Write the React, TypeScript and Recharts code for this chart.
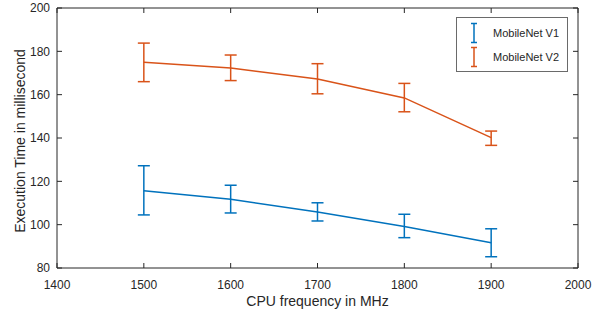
import React from "react";
import { LineChart, Line, XAxis, YAxis, ErrorBar } from "recharts";

const freqs = [1500, 1600, 1700, 1800, 1900];
const v1Mean = [115.7, 111.7, 105.8, 99.2, 91.7];
const v1Lower = [104.5, 105.4, 101.7, 94.0, 85.2];
const v1Upper = [127.2, 118.2, 110.1, 104.8, 98.1];
const v2Mean = [175.0, 172.3, 167.2, 158.5, 140.2];
const v2Lower = [166.0, 166.5, 160.4, 152.1, 136.6];
const v2Upper = [183.8, 178.3, 174.3, 165.2, 143.2];

const xTicks = [1400, 1500, 1600, 1700, 1800, 1900, 2000];
const yTicks = [80, 100, 120, 140, 160, 180, 200];

const seriesNames = ["MobileNet V1", "MobileNet V2"];
const BLUE = "#0072BD";
const ORANGE = "#D95319";
const AXIS = "#262626";
const FONT = "'Liberation Sans', Arial, Helvetica, sans-serif";

const data = freqs.map((f, i) => ({
  freq: f,
  v1: v1Mean[i],
  v1Err: [v1Mean[i] - v1Lower[i], v1Upper[i] - v1Mean[i]],
  v2: v2Mean[i],
  v2Err: [v2Mean[i] - v2Lower[i], v2Upper[i] - v2Mean[i]],
}));

const tickStyle = { fill: AXIS, fontSize: 12, fontFamily: FONT };

// legend drawn as an overlay so it doesn't steal plot height
function LegendBox() {
  const colors = [BLUE, ORANGE];
  return (
    <svg width={112} height={55} style={{ position: "absolute", left: 456, top: 17, display: "block" }}>
      <rect x={0.5} y={0.5} width={111} height={54} fill="#fff" stroke="#6a6a6a" strokeWidth={1} />
      {seriesNames.map((name, i) => {
        const cy = 16 + i * 24;
        return (
          <g key={name}>
            <line x1={18} x2={18} y1={cy - 9.5} y2={cy + 9.5} stroke={colors[i]} strokeWidth={1.5} />
            <line x1={15} x2={21} y1={cy - 9.5} y2={cy - 9.5} stroke={colors[i]} strokeWidth={1.5} />
            <line x1={15} x2={21} y1={cy + 9.5} y2={cy + 9.5} stroke={colors[i]} strokeWidth={1.5} />
            <text x={37} y={cy + 4} fontSize={11} fontFamily={FONT} fill={AXIS}>
              {name}
            </text>
          </g>
        );
      })}
    </svg>
  );
}

function YLabel(props: any) {
  const vb = props.viewBox || {};
  const cx = (vb.x ?? 0) + 24.5;
  const cy = (vb.y ?? 0) + vb.height / 2 + 3;
  return (
    <text
      x={cx}
      y={cy}
      transform={`rotate(-90, ${cx}, ${cy})`}
      textAnchor="middle"
      fontSize={14}
      fontFamily={FONT}
      fill={AXIS}
    >
      Execution Time in millisecond
    </text>
  );
}

// mirrored axes only carry the inward tick marks (MATLAB style box)
const innerTick = { stroke: AXIS, strokeWidth: 1 };
const noLabel = () => <g />;

export default function App() {
  return (
    <div style={{ position: "absolute", left: 0, top: 0, width: 606, height: 312, background: "#fff" }}>
      <LineChart width={606} height={312} data={data} margin={{ top: 0, right: 0, bottom: 0, left: 0 }}>
        <XAxis
          dataKey="freq"
          type="number"
          domain={[1400, 2000]}
          ticks={xTicks}
          height={44}
          stroke={AXIS}
          tickLine={false}
          tickSize={0}
          tickMargin={12}
          tick={tickStyle}
          label={{ value: "CPU frequency in MHz", position: "insideBottom", offset: 6, fill: AXIS, fontSize: 14, fontFamily: FONT }}
        />
        <XAxis
          xAxisId="top"
          dataKey="freq"
          orientation="top"
          type="number"
          domain={[1400, 2000]}
          ticks={xTicks}
          height={8}
          stroke={AXIS}
          tickLine={false}
          tick={false}
        />
        <XAxis
          xAxisId="bm"
          dataKey="freq"
          orientation="bottom"
          mirror
          type="number"
          domain={[1400, 2000]}
          ticks={xTicks}
          height={8}
          axisLine={false}
          tickLine={innerTick}
          tickSize={5}
          tick={noLabel}
        />
        <XAxis
          xAxisId="tm"
          dataKey="freq"
          orientation="top"
          mirror
          type="number"
          domain={[1400, 2000]}
          ticks={xTicks}
          height={8}
          axisLine={false}
          tickLine={innerTick}
          tickSize={5}
          tick={noLabel}
        />
        <YAxis
          type="number"
          domain={[80, 200]}
          ticks={yTicks}
          width={57}
          stroke={AXIS}
          tickLine={false}
          tickSize={0}
          tickMargin={7}
          tick={tickStyle}
          label={<YLabel />}
        />
        <YAxis
          yAxisId="right"
          orientation="right"
          type="number"
          domain={[80, 200]}
          ticks={yTicks}
          width={28}
          stroke={AXIS}
          tickLine={false}
          tick={false}
        />
        <YAxis
          yAxisId="lm"
          orientation="left"
          mirror
          type="number"
          domain={[80, 200]}
          ticks={yTicks}
          width={8}
          axisLine={false}
          tickLine={innerTick}
          tickSize={5}
          tick={noLabel}
        />
        <YAxis
          yAxisId="rm"
          orientation="right"
          mirror
          type="number"
          domain={[80, 200]}
          ticks={yTicks}
          width={8}
          axisLine={false}
          tickLine={innerTick}
          tickSize={5}
          tick={noLabel}
        />
        {/* invisible series so the box / tick axes get drawn */}
        <Line xAxisId="top" yAxisId="right" dataKey="v1" stroke="none" dot={false} activeDot={false} legendType="none" isAnimationActive={false} />
        <Line xAxisId="bm" yAxisId="lm" dataKey="v1" stroke="none" dot={false} activeDot={false} legendType="none" isAnimationActive={false} />
        <Line xAxisId="tm" yAxisId="rm" dataKey="v1" stroke="none" dot={false} activeDot={false} legendType="none" isAnimationActive={false} />
        <Line
          type="linear"
          dataKey="v1"
          name={seriesNames[0]}
          stroke={BLUE}
          strokeWidth={1.5}
          dot={false}
          isAnimationActive={false}
        >
          <ErrorBar dataKey="v1Err" width={6} strokeWidth={1.5} stroke={BLUE} direction="y" isAnimationActive={false} />
        </Line>
        <Line
          type="linear"
          dataKey="v2"
          name={seriesNames[1]}
          stroke={ORANGE}
          strokeWidth={1.5}
          dot={false}
          isAnimationActive={false}
        >
          <ErrorBar dataKey="v2Err" width={6} strokeWidth={1.5} stroke={ORANGE} direction="y" isAnimationActive={false} />
        </Line>
      </LineChart>
      <LegendBox />
    </div>
  );
}
